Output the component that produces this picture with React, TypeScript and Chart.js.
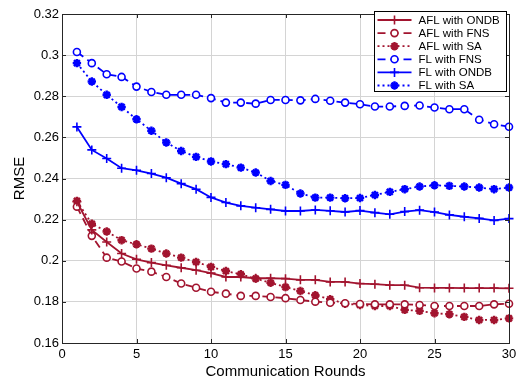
import React, { useEffect, useRef } from 'react';
import { Chart, registerables } from 'chart.js';
import { drawPoint } from 'chart.js/helpers';

Chart.register(...registerables);

const rounds = [1, 2, 3, 4, 5, 6, 7, 8, 9, 10, 11, 12, 13, 14, 15, 16, 17, 18, 19, 20, 21, 22, 23, 24, 25, 26, 27, 28, 29, 30];

const xTickValues = [0, 5, 10, 15, 20, 25, 30];
const yTickValues = [0.16, 0.18, 0.2, 0.22, 0.24, 0.26, 0.28, 0.3, 0.32];

const seriesLabels = ['AFL with ONDB', 'AFL with FNS', 'AFL with SA', 'FL with FNS', 'FL with ONDB', 'FL with SA'];

const aflOndb = [0.2287, 0.2150, 0.2091, 0.2035, 0.2007, 0.1991, 0.1978, 0.1966, 0.1954, 0.1940, 0.1921, 0.1921, 0.1915, 0.1915, 0.1913, 0.1907, 0.1907, 0.1897, 0.1897, 0.1889, 0.1886, 0.1881, 0.1881, 0.1869, 0.1868, 0.1868, 0.1867, 0.1867, 0.1867, 0.1866];
const aflFns = [0.2263, 0.2121, 0.2015, 0.1996, 0.1962, 0.1947, 0.1921, 0.1889, 0.1869, 0.1849, 0.1840, 0.1829, 0.1829, 0.1824, 0.1818, 0.1809, 0.1801, 0.1796, 0.1793, 0.1790, 0.1788, 0.1788, 0.1788, 0.1785, 0.1780, 0.1780, 0.1780, 0.1780, 0.1788, 0.1791];
const aflSa = [0.2291, 0.2180, 0.2142, 0.2100, 0.2080, 0.2059, 0.2035, 0.2015, 0.1994, 0.1970, 0.1950, 0.1934, 0.1913, 0.1893, 0.1872, 0.1853, 0.1832, 0.1813, 0.1791, 0.1785, 0.1780, 0.1780, 0.1761, 0.1756, 0.1745, 0.1740, 0.1727, 0.1712, 0.1712, 0.1720];
const flFns = [0.3015, 0.2961, 0.2907, 0.2894, 0.2847, 0.2821, 0.2807, 0.2807, 0.2807, 0.2791, 0.2769, 0.2769, 0.2764, 0.2782, 0.2782, 0.2780, 0.2787, 0.2778, 0.2769, 0.2761, 0.2750, 0.2750, 0.2753, 0.2755, 0.2745, 0.2737, 0.2737, 0.2686, 0.2664, 0.2652];
const flOndb = [0.2651, 0.2539, 0.2497, 0.2450, 0.2440, 0.2424, 0.2404, 0.2375, 0.2348, 0.2308, 0.2283, 0.2267, 0.2258, 0.2250, 0.2242, 0.2242, 0.2247, 0.2243, 0.2237, 0.2244, 0.2234, 0.2226, 0.2239, 0.2246, 0.2237, 0.2223, 0.2214, 0.2206, 0.2196, 0.2205];
const flSa = [0.2961, 0.2872, 0.2807, 0.2748, 0.2688, 0.2632, 0.2575, 0.2534, 0.2505, 0.2483, 0.2470, 0.2453, 0.2429, 0.2388, 0.2369, 0.2327, 0.2307, 0.2307, 0.2304, 0.2305, 0.2320, 0.2335, 0.2348, 0.2361, 0.2367, 0.2364, 0.2361, 0.2356, 0.2348, 0.2356];

const RED = '#A2142F';
const BLUE = '#0000FF';
const FONT = '"Liberation Sans", Arial, sans-serif';

type Style = 'ondb' | 'fns' | 'sa';

function makeDataset(label: string, values: number[], color: string, kind: Style) {
  const base: any = {
    label,
    data: rounds.map((r, i) => ({ x: r, y: values[i] })),
    borderColor: color,
    borderWidth: 1.8,
    pointBorderColor: color,
    pointBackgroundColor: color,
    clip: false,
    tension: 0,
  };
  if (kind === 'ondb') {
    base.borderDash = [];
    base.pointStyle = 'cross';
    base.pointRadius = 4.5;
    base.pointBorderWidth = 1.6;
  } else if (kind === 'fns') {
    base.borderDash = [8, 5];
    base.pointStyle = 'circle';
    base.pointRadius = 3.5;
    base.pointBorderWidth = 1.6;
    base.pointBackgroundColor = '#ffffff';
  } else {
    base.borderDash = [2, 3];
    base.pointStyle = 'star';
    base.pointRadius = 4.2;
    base.pointBorderWidth = 2.4;
  }
  base.pointHoverRadius = base.pointRadius;
  return base;
}

const boxPlugin = {
  id: 'matlabBox',
  afterDatasetsDraw(chart: any) {
    const { ctx, chartArea } = chart;
    const { left, right, top, bottom } = chartArea;
    const xs = chart.scales.x;
    const ys = chart.scales.y;
    ctx.save();
    ctx.setLineDash([]);
    ctx.strokeStyle = '#262626';
    ctx.lineWidth = 1;
    ctx.strokeRect(Math.round(left) + 0.5, Math.round(top) + 0.5, Math.round(right - left), Math.round(bottom - top));
    const tl = 4;
    ctx.beginPath();
    xTickValues.forEach((v) => {
      const px = Math.round(xs.getPixelForValue(v)) + 0.5;
      ctx.moveTo(px, bottom);
      ctx.lineTo(px, bottom - tl);
      ctx.moveTo(px, top);
      ctx.lineTo(px, top + tl);
    });
    yTickValues.forEach((v) => {
      const py = Math.round(ys.getPixelForValue(v)) + 0.5;
      ctx.moveTo(left, py);
      ctx.lineTo(left + tl, py);
      ctx.moveTo(right, py);
      ctx.lineTo(right - tl, py);
    });
    ctx.stroke();
    ctx.restore();
  },
};

const legendPlugin = {
  id: 'matlabLegend',
  afterDraw(chart: any) {
    const { ctx, chartArea } = chart;
    const x0 = Math.round(chartArea.right - 135) + 0.5;
    const y0 = Math.round(chartArea.top - 3) + 0.5;
    const w = 132;
    const h = 80;
    ctx.save();
    ctx.fillStyle = '#ffffff';
    ctx.fillRect(x0, y0, w, h);
    ctx.strokeStyle = '#000000';
    ctx.lineWidth = 1;
    ctx.setLineDash([]);
    ctx.strokeRect(x0, y0, w, h);
    chart.data.datasets.forEach((ds: any, i: number) => {
      const y = y0 + 8.5 + i * 13.1;
      ctx.save();
      ctx.strokeStyle = ds.borderColor;
      ctx.lineWidth = ds.borderWidth;
      ctx.setLineDash(ds.borderDash || []);
      ctx.beginPath();
      ctx.moveTo(x0 + 3, y);
      ctx.lineTo(x0 + 37, y);
      ctx.stroke();
      ctx.restore();
      ctx.save();
      ctx.setLineDash([]);
      ctx.strokeStyle = ds.pointBorderColor;
      ctx.fillStyle = ds.pointBackgroundColor;
      ctx.lineWidth = ds.pointBorderWidth;
      drawPoint(ctx, { pointStyle: ds.pointStyle, radius: ds.pointRadius, borderWidth: ds.pointBorderWidth, rotation: 0 } as any, x0 + 20, y);
      ctx.restore();
      ctx.fillStyle = '#000000';
      ctx.font = `11.5px ${FONT}`;
      ctx.textBaseline = 'middle';
      ctx.textAlign = 'left';
      ctx.fillText(ds.label, x0 + 44, y + 0.5);
    });
    ctx.restore();
  },
};

export default function App() {
  const canvasRef = useRef<HTMLCanvasElement | null>(null);

  useEffect(() => {
    if (!canvasRef.current) return;
    Chart.defaults.font.family = FONT;
    const datasets = [
      makeDataset(seriesLabels[0], aflOndb, RED, 'ondb'),
      makeDataset(seriesLabels[1], aflFns, RED, 'fns'),
      makeDataset(seriesLabels[2], aflSa, RED, 'sa'),
      makeDataset(seriesLabels[3], flFns, BLUE, 'fns'),
      makeDataset(seriesLabels[4], flOndb, BLUE, 'ondb'),
      makeDataset(seriesLabels[5], flSa, BLUE, 'sa'),
    ];
    const chart = new Chart(canvasRef.current, {
      type: 'line',
      data: { datasets },
      plugins: [boxPlugin, legendPlugin],
      options: {
        animation: false,
        responsive: false,
        maintainAspectRatio: false,
        events: [],
        layout: { padding: { top: 14, right: 7, left: 0, bottom: 0 } },
        plugins: {
          legend: { display: false },
          tooltip: { enabled: false },
          title: { display: false },
        },
        scales: {
          x: {
            type: 'linear',
            min: 0,
            max: 30,
            afterBuildTicks: (scale: any) => {
              scale.ticks = xTickValues.map((v) => ({ value: v }));
            },
            afterFit: (scale: any) => {
              scale.height = 40;
              scale.paddingLeft = 0;
              scale.paddingRight = 0;
            },
            ticks: {
              color: '#000000',
              font: { size: 13, family: FONT },
              padding: 4,
              maxRotation: 0,
              callback: (v: any) => String(v),
            },
            grid: { color: '#d4d4d4', lineWidth: 1, drawTicks: false },
            border: { display: false },
            title: {
              display: true,
              text: 'Communication Rounds',
              color: '#000000',
              font: { size: 15, family: FONT },
              padding: { top: 0, bottom: 2 },
            },
          },
          y: {
            type: 'linear',
            min: 0.16,
            max: 0.32,
            afterBuildTicks: (scale: any) => {
              scale.ticks = yTickValues.map((v) => ({ value: v }));
            },
            afterFit: (scale: any) => {
              scale.width = 62;
              scale.paddingTop = 0;
              scale.paddingBottom = 0;
            },
            ticks: {
              color: '#000000',
              font: { size: 13, family: FONT },
              padding: 3,
              callback: (v: any) => String(Number(Number(v).toFixed(2))),
            },
            grid: { color: '#d4d4d4', lineWidth: 1, drawTicks: false },
            border: { display: false },
            title: {
              display: true,
              text: 'RMSE',
              color: '#000000',
              font: { size: 15, family: FONT },
              padding: { top: 11, bottom: 0 },
            },
          },
        },
      } as any,
    });
    return () => chart.destroy();
  }, []);

  return (
    <div style={{ position: 'absolute', left: 0, top: 0, width: 516, height: 383, background: '#ffffff' }}>
      <canvas ref={canvasRef} width={516} height={383} style={{ display: 'block', width: 516, height: 383 }} />
    </div>
  );
}
